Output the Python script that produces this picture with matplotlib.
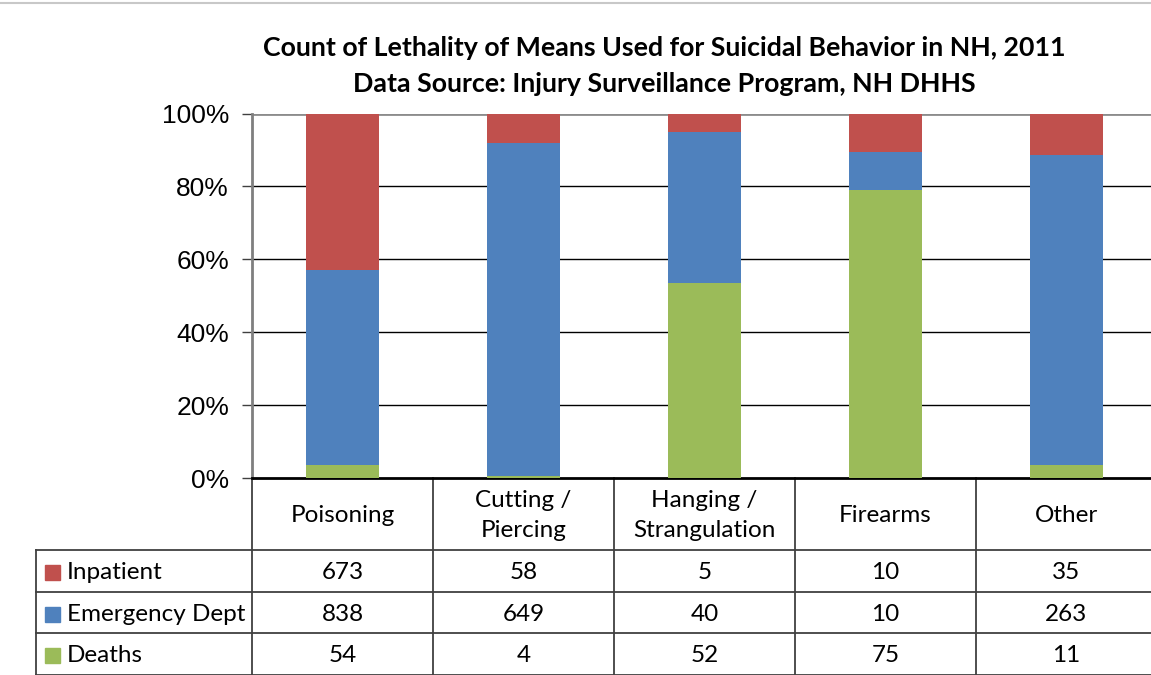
import matplotlib
matplotlib.use("Agg")
import numpy as np
import matplotlib.pyplot as plt
from matplotlib.transforms import blended_transform_factory
from matplotlib.lines import Line2D
from matplotlib.patches import Rectangle

categories = ["Poisoning", "Cutting /\nPiercing", "Hanging /\nStrangulation", "Firearms", "Other"]
series_names = ["Inpatient", "Emergency Dept", "Deaths"]
inpatient = [673, 58, 5, 10, 35]
emergency = [838, 649, 40, 10, 263]
deaths = [54, 4, 52, 75, 11]
yticks = [0, 20, 40, 60, 80, 100]

colors = {"Inpatient": "#C0504D", "Emergency Dept": "#4F81BD", "Deaths": "#9BBB59"}
counts = {"Inpatient": inpatient, "Emergency Dept": emergency, "Deaths": deaths}

W, H = 1151, 675
fig = plt.figure(figsize=(W / 100, H / 100), dpi=100)

# axes placed by pixel position of the plot area
ax = fig.add_axes([252 / W, (H - 478) / H, 905 / W, 364.5 / H])

total = np.array(inpatient) + np.array(emergency) + np.array(deaths)
x = np.arange(len(categories))
bottom = np.zeros(len(categories))
for name in ["Deaths", "Emergency Dept", "Inpatient"]:
    pct = np.array(counts[name]) / total * 100
    ax.bar(x, pct, 0.4, bottom=bottom, color=colors[name], zorder=3, linewidth=0)
    bottom += pct

ax.set_xlim(-0.5, len(categories) - 0.5)
ax.set_ylim(0, 100)
ax.set_yticks(yticks)
ax.set_yticklabels([f"{t}%" for t in yticks], family="Liberation Sans", fontsize=19)
ax.set_xticks([])
ax.tick_params(axis="y", length=7, width=1, color="#404040", pad=9.5)
for t in yticks[1:-1]:
    ax.axhline(t, color="black", lw=1, zorder=1)
ax.axhline(100, color="#8c8c8c", lw=2, zorder=1)
for s in ["top", "right"]:
    ax.spines[s].set_visible(False)
ax.spines["left"].set_color("#7f7f7f")
ax.spines["left"].set_linewidth(2)
ax.spines["bottom"].set_color("black")
ax.spines["bottom"].set_linewidth(2)

fig.text(664 / W, 1 - 48 / H, "Count of Lethality of Means Used for Suicidal Behavior in NH, 2011",
         ha="center", va="center", fontsize=19.3, fontweight="bold", family="Lato")
fig.text(664 / W, 1 - 84 / H, "Data Source: Injury Surveillance Program, NH DHHS",
         ha="center", va="center", fontsize=19.3, fontweight="bold", family="Lato")

# data table below the chart
tr = blended_transform_factory(ax.transData, ax.transAxes)
tra = ax.transAxes
row_edges = [0, -0.1975, -0.3128, -0.4252, -0.5405]
label_left = -0.2387
line_kw = dict(color="#404040", lw=1.3, clip_on=False)
tfont = dict(family="Lato", fontsize=17.5, color="black")

for i in range(len(categories) + 1):
    ax.add_line(Line2D([i - 0.5, i - 0.5], [row_edges[0], row_edges[-1]], transform=tr, **line_kw))
ax.add_line(Line2D([label_left, label_left], [row_edges[1], row_edges[-1]], transform=tra, **line_kw))
for yy in row_edges[1:]:
    ax.add_line(Line2D([label_left, 1.2], [yy, yy], transform=tra, **line_kw))

for i, cat in enumerate(categories):
    ax.text(i, (row_edges[0] + row_edges[1]) / 2 - 0.004, cat, transform=tr, ha="center", va="center",
            linespacing=1.5, **tfont)

for r, name in enumerate(series_names):
    yc = (row_edges[r + 1] + row_edges[r + 2]) / 2 - 0.005
    ax.add_patch(Rectangle((label_left + 0.0099, yc - 0.021), 0.0166, 0.042, transform=tra,
                           color=colors[name], clip_on=False))
    ax.text(label_left + 0.034, yc, name, transform=tra, ha="left", va="center", **tfont)
    for i, v in enumerate(counts[name]):
        ax.text(i, yc, str(v), transform=tr, ha="center", va="center", **tfont)

fig.add_artist(Line2D([0, 1], [1 - 3 / H, 1 - 3 / H], transform=fig.transFigure, color="#c8c8c8", lw=1.5))

fig.savefig("out.png", dpi=100)
